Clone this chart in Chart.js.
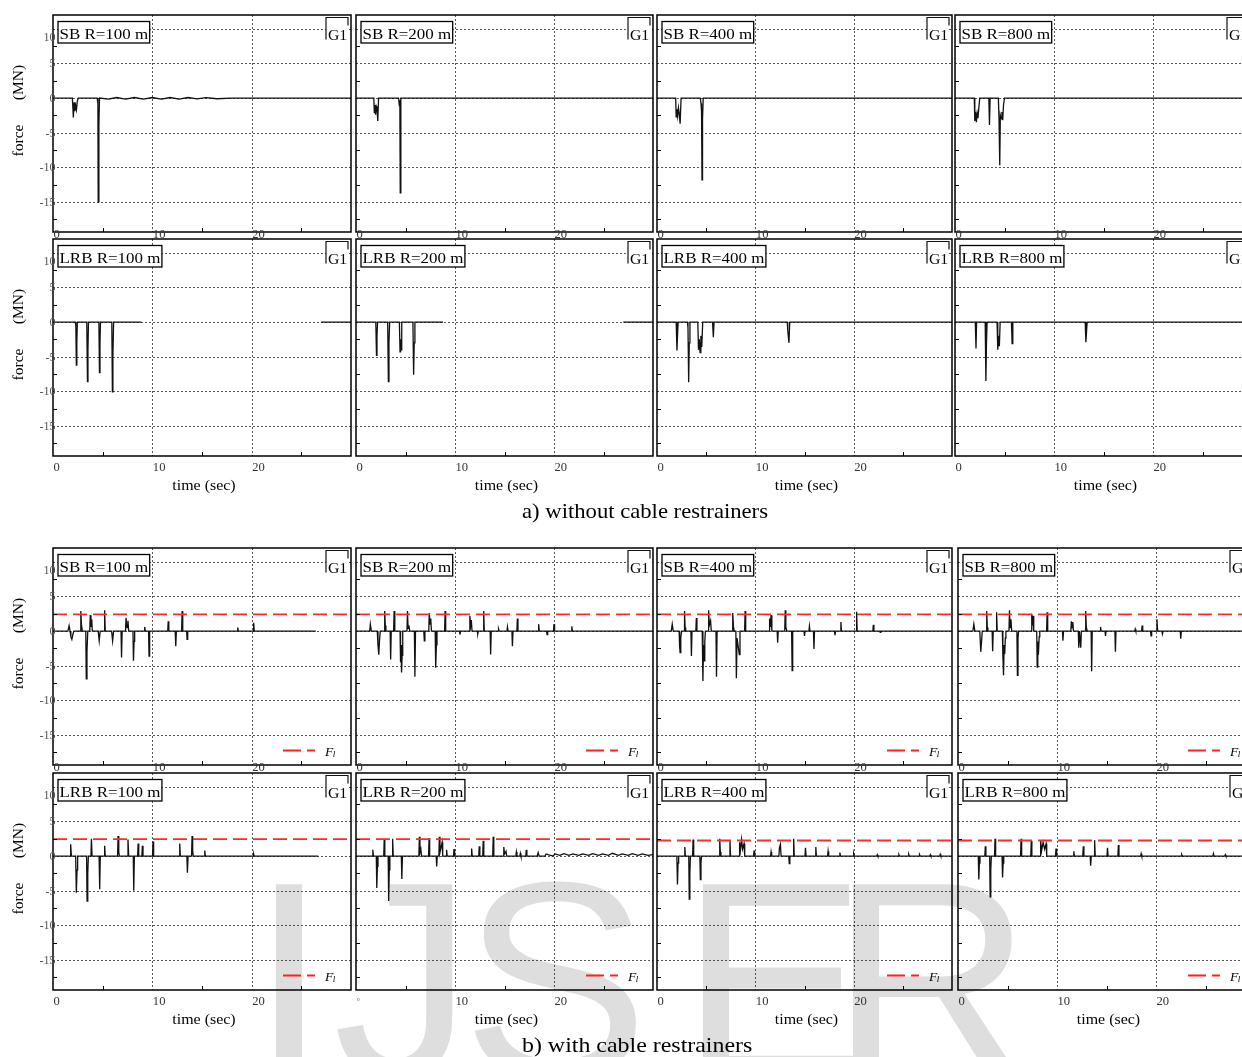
<!DOCTYPE html>
<html>
<head>
<meta charset="utf-8">
<script src="https://cdn.jsdelivr.net/npm/chart.js@4.4.0/dist/chart.umd.min.js"></script>
<style>
  html, body { margin: 0; padding: 0; background: #fff; }
  body { width: 1242px; height: 1057px; overflow: hidden; position: relative; }
  canvas { position: absolute; }
  .cap { position: absolute; font-family: "Liberation Serif", "Times New Roman", serif;
         font-size: 21px; line-height: 21px; color: #000; white-space: nowrap;
         transform-origin: 50% 50%; }
</style>
</head>
<body>
<canvas id="mark" width="1242" height="1057" style="left:0;top:0"></canvas>
<div class="cap" id="capA" style="top:501px">a) without cable restrainers</div>
<div class="cap" id="capB" style="top:1035px">b) with cable restrainers</div>
<script>
// ---- time axis / force axis ticks ----
const X_TICKS = [0, 10, 20];
const X_MINOR = [5, 15, 25];
const Y_TICKS = [10, 5, 0, -5, -10, -15];
const Y_MINOR = [7.5, 2.5, -2.5, -7.5, -12.5, -17.5];
const T_MAX = 30, F_MIN = -19.35, F_MAX = 12;

// ---- panel titles ----
const LABELS_SB  = ['SB R=100 m', 'SB R=200 m', 'SB R=400 m', 'SB R=800 m'];
const LABELS_LRB = ['LRB R=100 m', 'LRB R=200 m', 'LRB R=400 m', 'LRB R=800 m'];

// ---- restrainer force level F_l (MN) ----
const FL_SB  = [2.4, 2.4, 2.4, 2.4];
const FL_LRB = [2.45, 2.45, 2.25, 2.25];

// ---- a) without cable restrainers: [time (s), force (MN)] ----
const SB_100 = [[0,0],[1.95,0],[2.05,-2.8],[2.12,-0.6],[2.2,-1.9],[2.28,-1.1],[2.36,-1.7],[2.45,-0.4],[2.55,0],[4.45,0],[4.52,-0.8],[4.55,-15.0],[4.62,-4.0],[4.68,0],[5.6,-0.15],[6.4,0.08],[7.3,-0.15],[8.2,0.08],[9.1,-0.15],[10.0,0.08],[10.9,-0.15],[11.8,0.08],[12.7,-0.15],[13.6,0.08],[14.5,-0.12],[15.4,0.05],[16.5,-0.1],[18,0],[30,0]];
const SB_200 = [[0,0],[1.8,0],[1.85,-2.2],[1.92,-1.0],[1.98,-2.4],[2.05,-1.2],[2.12,-1.5],[2.2,-3.3],[2.28,0],[4.3,0],[4.38,-1.1],[4.43,-0.3],[4.47,-13.7],[4.53,0],[30,0]];
const SB_400 = [[0,0],[1.9,0],[1.95,-2.7],[2.02,-1.6],[2.1,-2.6],[2.18,-1.4],[2.26,-2.2],[2.35,-3.7],[2.45,0],[4.4,0],[4.48,-0.8],[4.53,-2.0],[4.58,-11.8],[4.63,-3.0],[4.7,0],[30,0]];
const SB_800 = [[0,0],[1.95,0],[2.0,-3.3],[2.08,-2.0],[2.16,-3.5],[2.24,-2.2],[2.32,-2.9],[2.4,-1.5],[2.5,0],[3.42,0],[3.48,-3.9],[3.55,0],[4.38,0],[4.45,-3.2],[4.52,-9.7],[4.58,-2.5],[4.66,-3.0],[4.74,-2.0],[4.82,-3.2],[4.9,-1.0],[5.0,0],[30,0]];
const LRB_100 = [[0,0],[2.25,0],[2.3,-0.6],[2.35,-6.2],[2.4,-3.0],[2.45,0],[3.4,0],[3.47,-8.6],[3.52,-4.0],[3.57,0],[4.62,0],[4.68,-7.3],[4.73,-3.0],[4.78,0],[5.92,0],[5.98,-10.1],[6.03,-5.0],[6.1,0],[8.9,0],[8.95,null],[27.0,0],[30,0]];
const LRB_200 = [[0,0],[2.0,0],[2.07,-4.8],[2.12,-2.0],[2.18,0],[3.2,0],[3.27,-8.6],[3.33,-3.0],[3.4,0],[4.38,0],[4.45,-4.3],[4.5,-2.5],[4.55,-4.0],[4.62,0],[5.75,0],[5.82,-7.6],[5.88,-3.0],[5.95,0],[8.8,0],[8.85,null],[27.0,0],[30,0]];
const LRB_400 = [[0,0],[1.95,0],[2.03,-4.1],[2.1,-1.5],[2.15,0],[3.1,0],[3.15,-0.8],[3.22,-8.7],[3.28,-3.0],[3.35,0],[4.15,0],[4.22,-4.0],[4.3,-2.5],[4.38,-4.4],[4.46,-2.0],[4.55,-3.6],[4.65,0],[5.65,0],[5.73,-2.2],[5.8,0],[13.25,0],[13.3,-1.2],[13.35,-2.0],[13.42,-3.0],[13.5,0],[30,0]];
const LRB_800 = [[0,0],[2.05,0],[2.12,-3.8],[2.18,0],[3.05,0],[3.12,-8.5],[3.18,-3.0],[3.24,0],[4.25,0],[4.32,-4.0],[4.4,-2.0],[4.48,-3.5],[4.56,0],[5.7,0],[5.77,-3.1],[5.84,0],[13.15,0],[13.22,-2.9],[13.28,-1.5],[13.35,0],[30,0]];

// ---- b) with cable restrainers: [time (s), force (MN)] ----
const SB_100_C = [[0,0],[1.5,0],[1.62,0.8],[1.72,0],[1.8,-0.8],[1.9,-1.2],[2.0,-0.5],[2.1,0],[2.75,0],[2.8,2.9],[2.86,1.0],[2.95,0],[3.3,0],[3.35,-6.9],[3.42,-3.0],[3.5,0],[3.7,0],[3.75,2.3],[3.82,0.6],[3.9,1.7],[3.96,0],[4.55,0],[4.65,-1.4],[4.75,0],[5.15,0],[5.2,3.0],[5.26,0],[5.9,0],[6.0,-1.4],[6.1,0],[6.85,0],[6.9,-3.8],[6.96,0],[7.3,0],[7.35,1.9],[7.45,0.5],[7.55,1.5],[7.62,0],[8.05,0],[8.1,-4.3],[8.16,-1.5],[8.22,0],[9.18,0],[9.23,0.6],[9.3,0],[9.62,0],[9.67,-3.6],[9.73,0],[11.55,0],[11.6,1.4],[11.66,0],[12.3,0],[12.36,-2.2],[12.42,0],[12.95,0],[13.0,2.9],[13.06,0],[13.45,0],[13.5,-1.2],[13.56,0],[18.55,0],[18.6,0.5],[18.66,0],[20.15,0],[20.2,1.2],[20.26,0],[26.45,0]];
const SB_200_C = [[0,0],[1.38,0],[1.45,1.0],[1.55,0],[2.15,0],[2.22,-2.0],[2.3,-3.4],[2.38,-1.2],[2.45,0],[2.85,0],[2.9,2.9],[2.96,0.8],[3.02,0],[3.45,0],[3.5,-4.1],[3.56,0],[3.8,0],[3.85,2.9],[3.92,0],[4.45,0],[4.5,-4.5],[4.55,-2.0],[4.6,-6.0],[4.66,-3.5],[4.72,0],[5.15,0],[5.2,2.9],[5.26,0.4],[5.35,0.8],[5.42,0],[5.9,0],[5.95,-6.6],[6.01,0],[6.85,0],[6.9,-1.4],[6.96,0],[7.35,0],[7.4,2.6],[7.48,1.0],[7.55,1.8],[7.62,0],[8.0,0],[8.05,-5.3],[8.12,-2.0],[8.18,0],[8.95,0],[9.0,2.9],[9.06,0],[10.45,0],[10.5,-0.5],[10.56,0],[11.45,0],[11.5,2.2],[11.58,0.8],[11.65,1.6],[11.72,0],[12.25,0],[12.3,-0.4],[12.36,0],[12.85,0],[12.9,2.9],[12.96,0],[13.55,0],[13.6,-3.4],[13.66,0],[14.35,0],[14.4,0.3],[14.46,0],[15.25,0],[15.3,0.6],[15.36,0],[15.75,0],[15.8,-2.2],[15.86,0],[16.25,0],[16.3,1.8],[16.36,0],[18.4,0],[18.45,1.0],[18.51,0],[19.25,0],[19.3,-0.5],[19.36,0],[19.95,0],[20.0,1.0],[20.06,0],[21.75,0],[21.8,0.7],[21.86,0],[30,0]];
const SB_400_C = [[0,0],[1.45,0],[1.55,1.0],[1.65,0],[2.25,0],[2.3,-2.2],[2.35,-3.1],[2.42,-1.0],[2.5,0],[2.75,0],[2.8,2.9],[2.86,0.5],[2.92,0],[3.45,0],[3.5,-3.6],[3.56,0],[3.95,0],[4.0,1.9],[4.06,0],[4.6,0],[4.67,-7.2],[4.73,-2.0],[4.8,-4.3],[4.86,-1.5],[4.92,0],[5.2,0],[5.25,3.0],[5.32,0.8],[5.45,1.5],[5.52,0],[6.0,0],[6.05,-6.6],[6.11,0],[7.65,0],[7.7,2.6],[7.78,0.6],[7.85,0],[8.02,0],[8.07,-6.8],[8.14,-1.0],[8.37,-3.4],[8.44,0],[8.91,0],[8.96,2.9],[9.02,0],[11.4,0],[11.45,1.8],[11.52,0.6],[11.6,2.3],[11.68,0],[12.22,0],[12.27,-1.7],[12.33,0],[12.99,0],[13.04,3.0],[13.1,0.6],[13.2,0],[13.69,0],[13.74,-5.7],[13.8,0],[14.95,0],[15.0,-0.7],[15.06,0],[15.45,0],[15.5,0.7],[15.56,0],[15.91,0],[15.96,-2.6],[16.02,0],[18.05,0],[18.1,-0.6],[18.16,0],[18.65,0],[18.7,1.3],[18.76,0],[20.25,0],[20.3,2.8],[20.36,0],[21.95,0],[22.0,0.9],[22.06,0],[22.65,0],[22.7,-0.2],[22.76,0],[30,0]];
const SB_800_C = [[0,0],[1.5,0],[1.6,1.0],[1.7,0],[2.2,0],[2.3,-3.0],[2.38,-1.5],[2.45,0],[2.85,0],[2.9,2.9],[2.96,0.5],[3.02,0],[3.45,0],[3.5,-2.9],[3.56,0],[3.85,0],[3.9,2.7],[3.96,0],[4.48,0],[4.53,-3.4],[4.6,-6.4],[4.66,-2.0],[4.72,-3.3],[4.78,-1.0],[4.84,0],[5.15,0],[5.2,3.0],[5.26,0.5],[5.35,1.7],[5.42,0],[5.95,0],[6.0,-6.4],[6.06,-1.0],[6.12,0],[7.4,0],[7.45,2.5],[7.52,0.8],[7.58,2.2],[7.65,0],[7.95,0],[8.0,-5.2],[8.06,-1.5],[8.12,-3.4],[8.2,-0.8],[8.26,0],[8.95,0],[9.0,2.7],[9.06,0],[10.55,0],[10.6,-1.4],[10.66,0],[11.4,0],[11.45,1.4],[11.52,0.5],[11.6,1.3],[11.66,0],[12.15,0],[12.2,-2.4],[12.26,0],[12.4,-2.4],[12.46,0],[12.85,0],[12.9,2.9],[12.96,0.6],[13.05,0],[13.45,0],[13.5,-5.8],[13.56,0],[14.35,0],[14.4,0.6],[14.46,0],[14.85,0],[14.9,-0.7],[14.96,0],[15.85,0],[15.9,-3.0],[15.96,0],[17.85,0],[17.9,0.3],[17.96,0],[18.55,0],[18.6,0.8],[18.66,0],[19.45,0],[19.5,-0.7],[19.56,0],[20.05,0],[20.1,1.7],[20.16,0],[20.6,0],[20.65,-0.4],[20.71,0],[22.45,0],[22.5,-1.1],[22.56,0],[30,0]];
const LRB_100_C = [[0,0],[1.72,0],[1.78,1.7],[1.85,0],[2.28,0],[2.35,-5.3],[2.42,-2.0],[2.48,0],[3.38,0],[3.43,-6.5],[3.5,-2.5],[3.56,0],[3.82,0],[3.87,2.5],[3.93,0],[4.64,0],[4.7,-4.8],[4.76,0],[5.15,0],[5.2,1.5],[5.26,0],[6.5,0],[6.55,2.9],[6.62,0.6],[6.68,0],[7.5,0],[7.55,2.4],[7.62,0],[8.08,0],[8.13,-5.0],[8.19,0],[8.52,0],[8.57,1.8],[8.63,0],[8.95,0],[9.0,1.5],[9.06,0],[10.02,0],[10.07,2.1],[10.13,0],[12.71,0],[12.76,1.8],[12.82,0],[13.48,0],[13.53,-2.4],[13.6,0],[13.95,0],[14.0,2.9],[14.06,0.8],[14.12,0],[15.23,0],[15.28,0.8],[15.34,0],[20.15,0],[20.2,0.3],[20.26,0],[26.7,0]];
const LRB_200_C = [[0,0],[1.65,0],[1.7,0.9],[1.76,0],[2.05,0],[2.1,-4.6],[2.16,-1.5],[2.22,0],[2.8,0],[2.85,2.4],[2.91,0],[3.25,0],[3.3,-6.5],[3.36,-2.0],[3.42,0],[3.65,0],[3.7,2.5],[3.76,0],[4.58,0],[4.63,-3.3],[4.69,0],[6.35,0],[6.4,2.8],[6.46,0.5],[6.55,1.0],[6.62,0],[7.33,0],[7.38,2.6],[7.44,0],[8.1,0],[8.15,-1.5],[8.21,0],[8.37,0],[8.42,2.8],[8.48,0.5],[8.7,2.0],[8.76,0],[9.1,0],[9.15,0.9],[9.21,0],[9.85,0],[9.9,1.0],[9.96,0],[11.63,0],[11.68,1.1],[11.74,0],[12.4,0],[12.45,1.4],[12.51,0],[12.8,0],[12.85,2.2],[12.91,0],[13.81,0],[13.86,2.8],[13.92,0],[14.88,0],[14.93,1.3],[15.0,0.3],[15.15,0.7],[15.22,0],[16.15,0],[16.2,0.6],[16.26,0],[16.55,0],[16.6,0.4],[16.66,0],[17.15,0],[17.2,0.9],[17.26,0],[18.3,0],[18.4,0.5],[18.5,0],[19.1,0],[19.2,0.3],[19.4,0.2],[19.9,0],[20.1,0.3],[20.6,0.1],[21.0,0.35],[21.5,0.1],[21.9,0.3],[22.5,0.1],[22.9,0.3],[23.5,0.1],[23.9,0.35],[24.5,0.1],[24.9,0.3],[25.5,0.1],[25.9,0.4],[26.5,0.1],[26.9,0.3],[27.5,0.1],[27.9,0.35],[28.5,0.1],[28.9,0.3],[29.5,0.1],[30,0.2]];
const LRB_400_C = [[0,0],[2.02,0],[2.08,-4.1],[2.14,-1.0],[2.2,0],[2.78,0],[2.83,1.3],[2.89,0],[3.23,0],[3.28,-6.2],[3.34,-2.5],[3.4,0],[3.62,0],[3.67,2.4],[3.73,0],[4.36,0],[4.41,-3.4],[4.47,-1.0],[4.53,0],[6.33,0],[6.38,2.5],[6.44,0.6],[6.5,0],[7.37,0],[7.42,2.3],[7.48,0],[8.35,0],[8.4,2.0],[8.48,0.8],[8.6,2.4],[8.7,1.0],[8.85,1.8],[8.92,0],[9.82,0],[9.87,0.8],[9.93,0],[11.55,0],[11.6,0.6],[11.66,0],[12.4,0],[12.45,1.2],[12.55,1.7],[12.62,0],[13.4,0],[13.45,-1.1],[13.51,0],[13.85,0],[13.9,2.5],[13.96,0],[15.05,0],[15.1,1.2],[15.16,0],[16.1,0],[16.15,1.3],[16.21,0],[17.35,0],[17.4,0.7],[17.46,0],[18.55,0],[18.6,0.5],[18.66,0],[19.95,0],[20.0,0.35],[20.06,0],[22.35,0],[22.4,0.2],[22.46,0],[24.55,0],[24.6,0.2],[24.66,0],[25.55,0],[25.6,0.25],[25.66,0],[26.65,0],[26.7,0.2],[26.76,0],[27.75,0],[27.8,0.2],[27.86,0],[28.75,0],[28.8,0.25],[28.86,0],[30,0]];
const LRB_800_C = [[0,0],[2.05,0],[2.1,-3.4],[2.16,-1.0],[2.22,0],[2.71,0],[2.76,1.4],[2.82,0],[3.2,0],[3.25,-5.9],[3.31,-2.0],[3.37,0],[3.69,0],[3.74,2.5],[3.8,0],[4.45,0],[4.5,-3.1],[4.56,-1.0],[4.62,0],[6.32,0],[6.37,2.5],[6.43,0],[7.35,0],[7.4,2.2],[7.46,0],[8.3,0],[8.35,2.2],[8.45,0.8],[8.6,2.0],[8.75,1.0],[8.9,1.8],[8.96,0],[9.85,0],[9.9,1.1],[9.96,0],[11.65,0],[11.7,0.7],[11.76,0],[12.6,0],[12.66,1.4],[12.72,0],[13.35,0],[13.4,-1.4],[13.46,0],[13.75,0],[13.8,2.3],[13.86,0],[15.05,0],[15.1,1.2],[15.16,0],[16.15,0],[16.2,1.6],[16.26,0],[18.45,0],[18.5,0.35],[18.56,0],[22.55,0],[22.6,0.2],[22.66,0],[25.75,0],[25.8,0.35],[25.86,0],[26.95,0],[27.0,0.2],[27.06,0],[30,0]];

// ---- page layout of the 4 x 4 panel grid (plot-area rectangles) ----
const ROW_TOP = [15, 239, 548, 773];
const PLOT_H = 217;
const COL_LEFT = [[53, 356, 657, 955], [53, 356, 657, 955], [53, 356, 657, 958], [53, 356, 657, 958]];
const COL_W = [298, 297, 295, 297];
const PAD = { l: 53, t: 8, r: 8, b: 52 };

const SERIF = '"Liberation Serif", "Times New Roman", serif';
const SX = 1.1;   // figure text is slightly wide

function drawText(ctx, s, x, y, size, o = {}) {
  ctx.save();
  ctx.font = `${o.style || ''} ${size}px ${SERIF}`;
  ctx.fillStyle = o.color || '#000';
  ctx.textAlign = o.align || 'left';
  ctx.textBaseline = o.baseline || 'alphabetic';
  ctx.translate(x, y);
  if (o.rot) ctx.rotate(o.rot);
  ctx.scale(o.sx || 1, 1);
  ctx.fillText(s, 0, 0);
  const w = ctx.measureText(s).width * (o.sx || 1);
  ctx.restore();
  return w;
}

const panelDecor = {
  id: 'panelDecor',
  beforeDatasetsDraw(chart, args, o) {
    const { ctx, chartArea: a } = chart;
    const xs = chart.scales.x, ys = chart.scales.y;
    ctx.save();
    ctx.strokeStyle = 'rgba(30,30,30,0.75)';
    ctx.lineWidth = 1;
    ctx.setLineDash([2, 2]);
    ctx.beginPath();
    X_TICKS.forEach(v => {
      if (v === 0) return;
      const p = Math.round(xs.getPixelForValue(v)) + 0.5;
      ctx.moveTo(p, a.top); ctx.lineTo(p, a.bottom);
    });
    Y_TICKS.forEach(v => {
      const p = Math.round(ys.getPixelForValue(v)) + 0.5;
      ctx.moveTo(a.left, p); ctx.lineTo(a.right, p);
    });
    ctx.stroke();
    ctx.restore();
  },
  afterDatasetsDraw(chart, args, o) {
    const { ctx, chartArea: a } = chart;
    const xs = chart.scales.x, ys = chart.scales.y;
    ctx.save();
    // frame
    ctx.strokeStyle = '#000';
    ctx.lineWidth = 1.5;
    ctx.strokeRect(a.left, a.top, a.right - a.left, a.bottom - a.top);
    // minor ticks (inside)
    ctx.lineWidth = 1;
    ctx.beginPath();
    Y_MINOR.forEach(v => {
      const p = Math.round(ys.getPixelForValue(v)) + 0.5;
      ctx.moveTo(a.left, p); ctx.lineTo(a.left + 4, p);
    });
    X_MINOR.forEach(v => {
      const p = Math.round(xs.getPixelForValue(v)) + 0.5;
      ctx.moveTo(p, a.bottom); ctx.lineTo(p, a.bottom - 4);
    });
    ctx.stroke();

    // panel title box
    const bx = a.left + 5, by = a.top + 6.5, bh = 21.5;
    ctx.font = `15px ${SERIF}`;
    const tw = ctx.measureText(o.label).width * 1.13;
    ctx.fillStyle = '#fff';
    ctx.fillRect(bx, by, tw + 3, bh);
    ctx.strokeStyle = '#000';
    ctx.lineWidth = 1.3;
    ctx.strokeRect(bx, by, tw + 3, bh);
    drawText(ctx, o.label, bx + 1.5, by + 17.3, 15, { sx: 1.13 });

    // G1 bracket
    const gx = a.right - 25, gy = a.top + 2.5;
    ctx.fillStyle = '#fff';
    ctx.fillRect(gx, gy, 22, 22);
    ctx.lineWidth = 1.2;
    ctx.strokeStyle = '#111';
    ctx.beginPath();
    ctx.moveTo(gx, gy + 22); ctx.lineTo(gx, gy);
    ctx.lineTo(gx + 22, gy); ctx.lineTo(gx + 22, gy + 8);
    ctx.stroke();
    drawText(ctx, 'G1', gx + 2, gy + 22.5, 15, { sx: 1.05 });

    // F_l legend
    if (o.fl != null) {
      const ly = Math.round(a.bottom - 15) + 0.5;
      ctx.strokeStyle = '#ff2020';
      ctx.lineWidth = 1.8;
      ctx.setLineDash([18, 6]);
      ctx.beginPath();
      ctx.moveTo(a.left + 230, ly); ctx.lineTo(a.left + 262, ly);
      ctx.stroke();
      ctx.setLineDash([]);
      const w = drawText(ctx, 'F', a.left + 272, ly + 5, 13, { style: 'italic', sx: 1.05 });
      drawText(ctx, 'l', a.left + 272 + w - 0.5, ly + 6.5, 9, { style: 'italic' });
    }

    // x tick labels
    const lowRow = o.row % 2 === 1;
    const tyy = lowRow ? a.bottom + 15 : a.bottom + 6;
    X_TICKS.forEach(v => {
      const p = xs.getPixelForValue(v);
      if (o.row === 3 && o.col === 1 && v === 0) {
        drawText(ctx, '°', p + 0.5, tyy - 1, 9, { color: '#666' });
        return;
      }
      drawText(ctx, String(v), p + 0.5, tyy, 12, { color: '#333', sx: 1.05 });
    });

    // y tick labels and force title (first column)
    if (o.col === 0) {
      Y_TICKS.forEach(v => {
        const p = ys.getPixelForValue(v) + (v === 10 ? 8 : 0);
        drawText(ctx, String(v), a.left + 2.5, p + 4, 11.5, { color: '#555', align: 'right', sx: 1.05 });
      });
      const cy = (a.top + a.bottom) / 2;
      drawText(ctx, 'force', a.left - 30, cy + 17, 15.5, { align: 'center', rot: -Math.PI / 2 });
      drawText(ctx, '(MN)', a.left - 30, cy - 41, 15.5, { align: 'center', rot: -Math.PI / 2 });
    }
    // time title (lower row of each block)
    if (lowRow) {
      drawText(ctx, 'time (sec)', (a.left + a.right) / 2 + 2, a.bottom + 34, 14.5, { align: 'center', sx: SX });
    }
    ctx.restore();
  }
};

const PANELS = [
  [SB_100, SB_200, SB_400, SB_800],
  [LRB_100, LRB_200, LRB_400, LRB_800],
  [SB_100_C, SB_200_C, SB_400_C, SB_800_C],
  [LRB_100_C, LRB_200_C, LRB_400_C, LRB_800_C]
];

function makePanel(row, col) {
  const series = PANELS[row][col];
  const label = (row % 2 === 0 ? LABELS_SB : LABELS_LRB)[col];
  const fl = row === 2 ? FL_SB[col] : row === 3 ? FL_LRB[col] : null;
  const L = COL_LEFT[row][col], T = ROW_TOP[row], W = COL_W[col];
  const cw = W + PAD.l + PAD.r, ch = PLOT_H + PAD.t + PAD.b;
  const cv = document.createElement('canvas');
  cv.width = cw; cv.height = ch;
  cv.style.width = cw + 'px'; cv.style.height = ch + 'px';
  cv.style.left = (L - PAD.l) + 'px';
  cv.style.top = (T - PAD.t) + 'px';
  document.body.appendChild(cv);

  const datasets = [];
  if (fl != null) {
    datasets.push({
      data: [{ x: 0, y: fl }, { x: T_MAX, y: fl }],
      borderColor: '#ff2a2a', borderWidth: 1.8, borderDash: [14, 6],
      pointRadius: 0, tension: 0
    });
  }
  datasets.push({
    data: series.map(([t, f]) => ({ x: t, y: f })),
    borderColor: '#111', borderWidth: 1.3, pointRadius: 0, tension: 0, spanGaps: false
  });

  new Chart(cv, {
    type: 'line',
    data: { datasets },
    options: {
      responsive: false, animation: false, devicePixelRatio: 1, events: [],
      layout: { padding: { left: PAD.l, top: PAD.t, right: PAD.r, bottom: PAD.b } },
      scales: {
        x: { type: 'linear', min: 0, max: T_MAX, display: false },
        y: { type: 'linear', min: F_MIN, max: F_MAX, display: false }
      },
      plugins: {
        legend: { display: false }, tooltip: { enabled: false },
        panelDecor: { row, col, label, fl }
      }
    },
    plugins: [panelDecor]
  });
}

// watermark letters behind the panels
(function () {
  const mk = document.getElementById('mark').getContext('2d');
  mk.fillStyle = '#dedede';
  mk.font = '280px "Liberation Sans", Arial, sans-serif';
  [['I', 250], ['J', 333], ['S', 462], ['E', 680], ['R', 830]]
    .forEach(([ch, x]) => mk.fillText(ch, x, 1077));
})();

for (let r = 0; r < 4; r++) for (let c = 0; c < 4; c++) makePanel(r, c);

// captions centred under each block
[['capA', 645, 246], ['capB', 637, 230]].forEach(([id, cx, w]) => {
  const el = document.getElementById(id);
  const s = w / el.offsetWidth;
  el.style.left = (cx - el.offsetWidth / 2) + 'px';
  el.style.transform = `scaleX(${s})`;
});
</script>
</body>
</html>
